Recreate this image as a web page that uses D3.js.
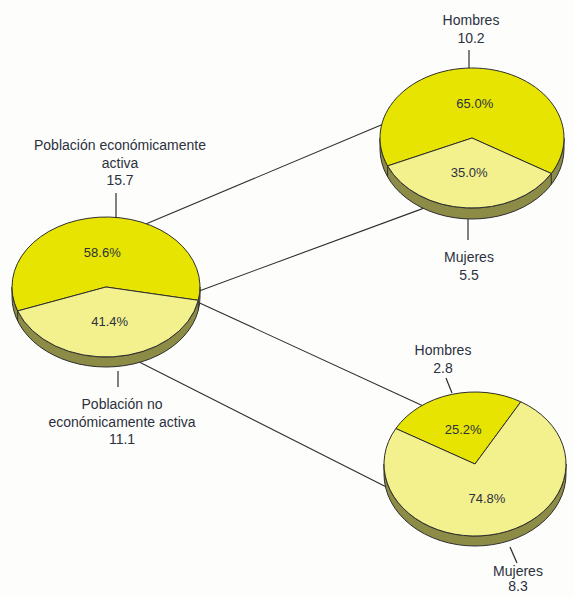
<!DOCTYPE html>
<html><head><meta charset="utf-8">
<script src="https://cdn.jsdelivr.net/npm/d3@7"></script>
<style>body{margin:0;background:#fdfdfb}svg{display:block}</style>
</head><body><svg id="c" width="573" height="597"></svg>
<script>
// ---- data ----
const mainCategories = ["Población económicamente activa", "Población no económicamente activa"];
const mainValues = [15.7, 11.1];
const mainPct = [58.6, 41.4];
const peaCategories = ["Hombres", "Mujeres"];
const peaValues = [10.2, 5.5];
const peaPct = [65.0, 35.0];
const pneaCategories = ["Hombres", "Mujeres"];
const pneaValues = [2.8, 8.3];
const pneaPct = [25.2, 74.8];

const svg = d3.select("#c");
const C_DARK = "#e6e400", C_LIGHT = "#f3f08e", C_SIDE = "#8d8c46", C_LINE = "#2e2e2e", C_TEXT = "#2c3140";

// pie geometry (layout)
const pies = {
  main: {cx:106, cy:287, rx:94, ry:70, depth:10, start:250, pct:mainPct, colors:[C_DARK, C_LIGHT]},
  pea:  {cx:472, cy:138, rx:92, ry:70, depth:11, start:246.5, pct:peaPct, colors:[C_DARK, C_LIGHT]},
  pnea: {cx:475, cy:464, rx:91, ry:72, depth:10, start:299.5, pct:pneaPct, colors:[C_DARK, C_LIGHT]}
};
const rad = Math.PI/180;
function pt(p, t, h){ return [p.cx + p.rx*Math.cos(t*rad), p.cy + p.ry*Math.sin(t*rad) + (h||0)*p.depth]; }

// connectors (angle on ellipse, fraction of depth)
const connectors = [
  [["main",-64.5,0],["pea",191,0]],
  [["main",3,0],["pea",122,1]],
  [["main",8,0.6],["pnea",234.5,0]],
  [["main",69,1],["pnea",170,1]]
];
const gl = svg.append("g");
connectors.forEach(([a,b])=>{
  const p1 = pt(pies[a[0]],a[1],a[2]), p2 = pt(pies[b[0]],b[1],b[2]);
  gl.append("line").attr("x1",p1[0]).attr("y1",p1[1]).attr("x2",p2[0]).attr("y2",p2[1])
    .attr("stroke",C_LINE).attr("stroke-width",1.1);
});

function drawPie(p){
  const g = svg.append("g");
  const {cx,cy,rx,ry,depth:d} = p;
  // side
  g.append("path")
    .attr("d",`M${cx-rx},${cy} L${cx-rx},${cy+d} A${rx},${ry} 0 0 0 ${cx+rx},${cy+d} L${cx+rx},${cy} A${rx},${ry} 0 0 1 ${cx-rx},${cy} Z`)
    .attr("fill",C_SIDE).attr("stroke",C_LINE).attr("stroke-width",1);
  const pie = d3.pie().sort(null).startAngle(p.start*rad).endAngle((p.start+360)*rad);
  const arcs = pie(p.pct);
  // side divider lines
  arcs.forEach(a=>{
    const t = a.startAngle/rad - 90;
    if (Math.sin(t*rad) > 0.05){
      const p1 = pt(p,t,0), p2 = pt(p,t,1);
      g.append("line").attr("x1",p1[0]).attr("y1",p1[1]).attr("x2",p2[0]).attr("y2",p2[1])
        .attr("stroke",C_LINE).attr("stroke-width",1);
    }
  });
  const k = ry/rx;
  const top = g.append("g").attr("transform",`translate(${cx},${cy}) scale(1,${k})`);
  const arc = d3.arc().innerRadius(0).outerRadius(rx);
  top.selectAll("path").data(arcs).join("path")
    .attr("d",arc).attr("fill",(d,i)=>p.colors[i])
    .attr("stroke",C_LINE).attr("stroke-width",1).attr("vector-effect","non-scaling-stroke");
  // percentage labels
  arcs.forEach(a=>{
    const m = (a.startAngle+a.endAngle)/2;
    const r = rx*0.5;
    g.append("text").attr("x",cx + r*Math.sin(m)).attr("y",cy - r*Math.cos(m)*k)
      .attr("text-anchor","middle").attr("dominant-baseline","central")
      .attr("font-family","Liberation Sans, Arial, sans-serif").attr("font-size",13)
      .attr("fill",C_TEXT).text(d3.format(".1f")(a.data)+"%");
  });
}
Object.values(pies).forEach(drawPie);

// category labels
const labels = [
  {x:120, y:150, dy:17.5, lines:["Población económicamente","activa", d3.format(".1f")(mainValues[0])], tick:[116,193,116,218]},
  {x:122, y:409, dy:17.5, lines:["Población no","económicamente activa", d3.format(".1f")(mainValues[1])], tick:[118,371,118,387]},
  {x:471, y:25, dy:17.5, lines:[peaCategories[0], d3.format(".1f")(peaValues[0])], tick:[469,50,469,68]},
  {x:469, y:262, dy:17.5, lines:[peaCategories[1], d3.format(".1f")(peaValues[1])], tick:[468,219,468,240]},
  {x:443, y:355, dy:17.5, lines:[pneaCategories[0], d3.format(".1f")(pneaValues[0])], tick:[446,378,452,393]},
  {x:518, y:576, dy:15, lines:[pneaCategories[1], d3.format(".1f")(pneaValues[1])], tick:[510,547,517,563]}
];
labels.forEach(l=>{
  svg.append("line").attr("x1",l.tick[0]).attr("y1",l.tick[1]).attr("x2",l.tick[2]).attr("y2",l.tick[3])
    .attr("stroke",C_LINE).attr("stroke-width",1.2);
  const t = svg.append("text").attr("text-anchor","middle")
    .attr("font-family","Liberation Sans, Arial, sans-serif").attr("font-size",14).attr("fill",C_TEXT);
  l.lines.forEach((s,i)=>t.append("tspan").attr("x",l.x).attr("y",l.y+i*l.dy).text(s));
});
</script></body></html>
